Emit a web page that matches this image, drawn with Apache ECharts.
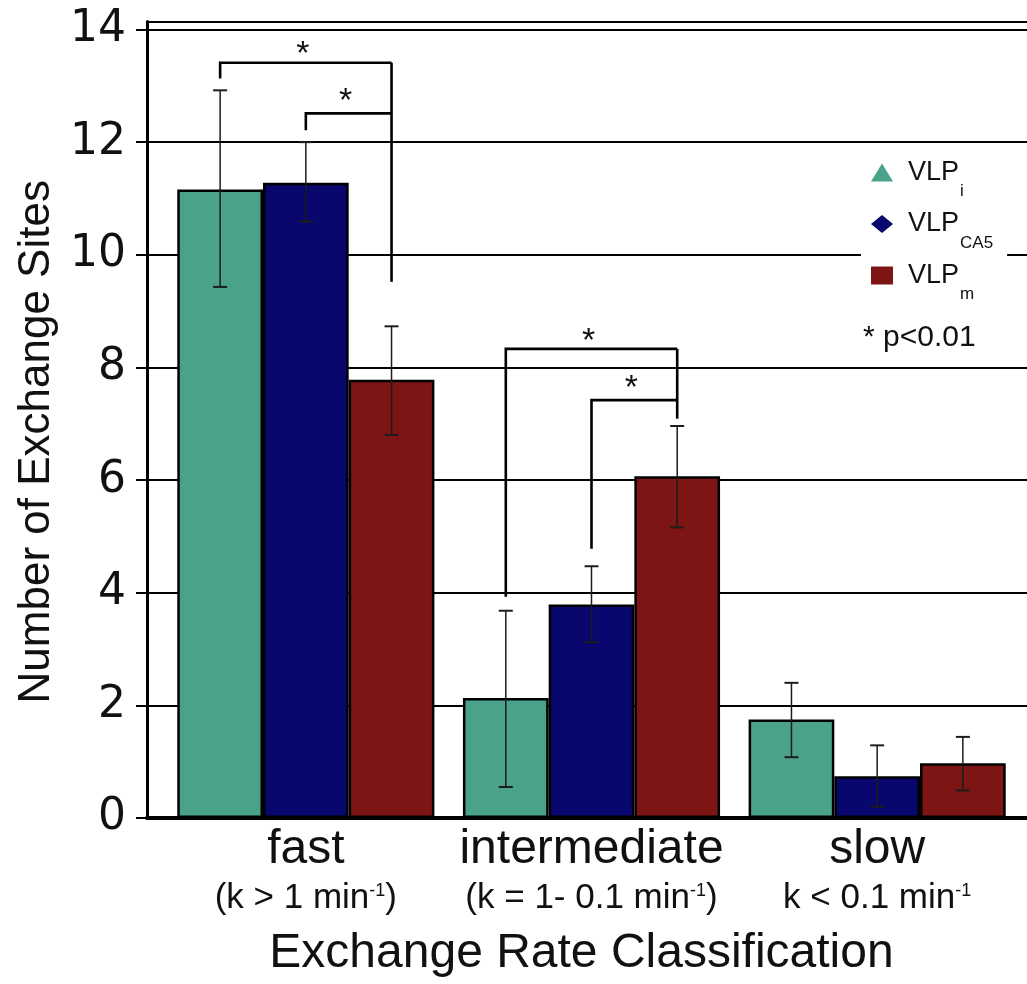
<!DOCTYPE html>
<html><head><meta charset="utf-8">
<script src="https://cdn.jsdelivr.net/npm/echarts@6/dist/echarts.min.js"></script>
<style>html,body{margin:0;padding:0;background:#fff}#c{width:1027px;height:984px}</style>
</head><body><div id="c"></div>
<script>
// ---- data ----
const categories = ['fast', 'intermediate', 'slow'];
const rateLabels = ['(k > 1 min', '(k = 1- 0.1 min', 'k < 0.1 min'];
const rateClose = [')', ')', ''];
const seriesNames = ['VLP_i', 'VLP_CA5', 'VLP_m'];
const seriesSubs = ['i', 'CA5', 'm'];
const vlpI = [11.16, 2.13, 1.75];
const vlpCA5 = [11.28, 3.79, 0.74];
const vlpM = [7.78, 6.07, 0.97];
const errLowI = [9.43, 0.55, 1.08];
const errHighI = [12.92, 3.68, 2.40];
const errLowCA5 = [10.59, 3.12, 0.20];
const errHighCA5 = [12.00, 4.47, 1.29];
const errLowM = [6.80, 5.16, 0.49];
const errHighM = [8.73, 6.96, 1.44];
const yMin = 0, yMax = 14, yStep = 2;
// significance brackets: [category, fromSeries, toSeries, leftLegEnd, bracketTop, rightLegEnd, starY]
const brackets = [
  [0, 0, 2, 13.13, 13.41, 9.52, 13.66],
  [0, 1, 2, 12.21, 12.51, null, 12.82],
  [1, 0, 2, 3.93, 8.33, 7.09, 8.56],
  [1, 1, 2, 4.78, 7.42, null, 7.73]
];
const pNote = '* p<0.01';
const xTitle = 'Exchange Rate Classification';
const yTitle = 'Number of Exchange Sites';

// ---- styles ----
const FONT = '"Liberation Sans", Arial, sans-serif';
const TICKFONT = '"DejaVu Sans", sans-serif';
const colors = ['#4BA28A', '#07076E', '#7E1515'];
const STAR_FS = 34;

const values = [vlpI, vlpCA5, vlpM];
const lows = [errLowI, errLowCA5, errLowM];
const highs = [errHighI, errHighCA5, errHighM];
const errData = [];
for (let k = 0; k < 3; k++) for (let c = 0; c < categories.length; c++) errData.push([c, k, lows[k][c], highs[k][c]]);
const bracketData = brackets.map(b => b.map(v => v === null ? '-' : v));

function barCenter(api, cat, k) {
  const band = api.size([1, 0])[0];
  const bw = band * 0.3;
  return api.coord([cat, 0])[0] + (k - 1) * bw;
}
function renderErr(params, api) {
  const cat = api.value(0), k = api.value(1);
  const x = barCenter(api, cat, k);
  const yl = api.coord([cat, api.value(2)])[1];
  const yh = api.coord([cat, api.value(3)])[1];
  const cap = 7;
  const st = { stroke: '#1c1c1c', lineWidth: 1.5 };
  const st2 = { stroke: '#1c1c1c', lineWidth: 2 };
  return { type: 'group', children: [
    { type: 'line', shape: { x1: x, y1: yl, x2: x, y2: yh }, style: st },
    { type: 'line', shape: { x1: x - cap, y1: yh, x2: x + cap, y2: yh }, style: st2 },
    { type: 'line', shape: { x1: x - cap, y1: yl, x2: x + cap, y2: yl }, style: st2 }
  ]};
}
function renderBracket(params, api) {
  const cat = api.value(0);
  const x1 = barCenter(api, cat, api.value(1));
  const x2 = barCenter(api, cat, api.value(2));
  const yL = api.coord([cat, api.value(3)])[1];
  const yT = api.coord([cat, api.value(4)])[1];
  const rEnd = api.value(5);
  const yS = api.coord([cat, api.value(6)])[1];
  const st = { stroke: '#000', lineWidth: 2.6, fill: null };
  const ch = [{ type: 'polyline', shape: { points: [[x1, yL], [x1, yT], [x2, yT]] }, style: st }];
  if (!isNaN(rEnd)) {
    const yR = api.coord([cat, rEnd])[1];
    ch.push({ type: 'line', shape: { x1: x2, y1: yT, x2: x2, y2: yR }, style: st });
  }
  ch.push({ type: 'text', x: (x1 + x2) / 2 - 3, y: yS + STAR_FS * 0.18,
    style: { text: '*', font: STAR_FS + 'px ' + FONT, fill: '#111', align: 'center', verticalAlign: 'middle' } });
  return { type: 'group', children: ch };
}

const chart = echarts.init(document.getElementById('c'), null, { renderer: 'canvas' });
const option = {
  animation: false,
  backgroundColor: '#fff',
  grid: [
    { left: 147, right: -20, top: 21.5, bottom: 166 },
    { left: 147, right: -20, top: 29.5, bottom: 166 },
    { left: 163, right: 7, top: 29.5, bottom: 166 }
  ],
  xAxis: [
    { gridIndex: 0, type: 'value', position: 'top', axisLine: { show: true, onZero: false, lineStyle: { color: '#000', width: 2 } },
      axisTick: { show: false }, axisLabel: { show: false }, splitLine: { show: false } },
    { gridIndex: 1, type: 'value', axisLine: { show: true, onZero: false, lineStyle: { color: '#000', width: 4 } },
      axisTick: { show: false }, axisLabel: { show: false }, splitLine: { show: false } },
    { gridIndex: 2, type: 'category', data: categories, axisLine: { show: false }, axisTick: { show: false },
      axisLabel: { margin: 7, interval: 0,
        formatter: (v, i) => '{a|' + v + '}\n{b|' + rateLabels[i] + '}{sup|-1}{b|' + rateClose[i] + '}',
        rich: {
          a: { fontFamily: FONT, fontSize: 48, lineHeight: 50, color: '#111' },
          b: { fontFamily: FONT, fontSize: 35, lineHeight: 46, color: '#111' },
          sup: { fontFamily: FONT, fontSize: 18, lineHeight: 46, color: '#111', padding: [0, 0, 14, 0] }
        } },
      name: xTitle, nameLocation: 'middle', nameGap: 112,
      nameTextStyle: { fontFamily: FONT, fontSize: 48, color: '#111', padding: [0, 20, 0, 0] } }
  ],
  yAxis: [
    { gridIndex: 0, type: 'value', axisLine: { show: true, onZero: false, lineStyle: { color: '#000', width: 3 } },
      axisTick: { show: false }, axisLabel: { show: false }, splitLine: { show: false } },
    { gridIndex: 1, type: 'value', min: yMin, max: yMax, interval: yStep,
      axisLine: { show: false }, axisTick: { show: true, inside: false, length: 11, lineStyle: { color: '#000', width: 2 } },
      axisLabel: { margin: 21, fontFamily: TICKFONT, fontSize: 44, color: '#111' },
      splitLine: { show: true, lineStyle: { color: '#000', width: 2 } },
      name: yTitle, nameLocation: 'middle', nameGap: 87,
      nameTextStyle: { fontFamily: FONT, fontSize: 44, color: '#111', padding: [0, 36, 0, 0] } },
    { gridIndex: 2, type: 'value', min: yMin, max: yMax, interval: yStep, show: false, splitLine: { show: false } }
  ],
  legend: {
    orient: 'vertical', left: 861, top: 159, backgroundColor: '#fff', padding: [0, 14, 0, 10],
    itemWidth: 22, itemHeight: 18, itemGap: 10.5,
    itemStyle: { borderWidth: 0 },
    data: [{ name: 'VLP_i', icon: 'triangle' }, { name: 'VLP_CA5', icon: 'diamond' }, { name: 'VLP_m', icon: 'rect' }],
    formatter: n => '{v|VLP}{s|' + seriesSubs[seriesNames.indexOf(n)] + '}',
    textStyle: { rich: {
      v: { fontFamily: FONT, fontSize: 27, color: '#111', padding: [0, 0, 0, 10] },
      s: { fontFamily: FONT, fontSize: 17, color: '#111', padding: [38, 0, 0, 1] }
    } }
  },
  graphic: [
    { type: 'text', left: 863, top: 323, z: 10, style: { text: pNote, font: '30px ' + FONT, fill: '#111' } }
  ],
  series: [
    ...seriesNames.map((n, k) => ({
      name: n, type: 'bar', xAxisIndex: 2, yAxisIndex: 2, data: values[k],
      barGap: '0%', barCategoryGap: '10%',
      itemStyle: { color: colors[k], borderColor: '#000', borderWidth: 2.5 }, z: 3
    })),
    { type: 'custom', xAxisIndex: 2, yAxisIndex: 2, data: errData, renderItem: renderErr, z: 5,
      encode: { x: 0, y: [2, 3] }, silent: true },
    { type: 'custom', xAxisIndex: 2, yAxisIndex: 2, data: bracketData, renderItem: renderBracket, z: 6,
      encode: { x: 0, y: [3, 4] }, silent: true, clip: false }
  ]
};
chart.setOption(option);
</script></body></html>
